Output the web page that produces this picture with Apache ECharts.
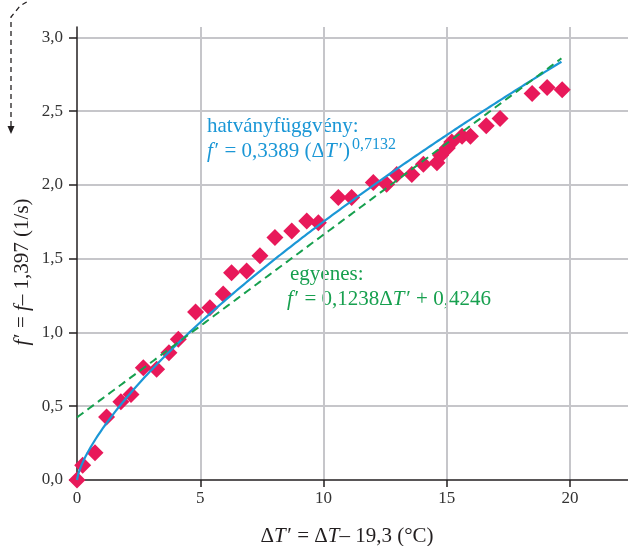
<!DOCTYPE html>
<html><head><meta charset="utf-8">
<script src="https://cdn.jsdelivr.net/npm/echarts@6/dist/echarts.min.js"></script>
<style>html,body{margin:0;padding:0;background:#fff}#c{width:628px;height:546px}</style>
</head><body><div id="c"></div>
<script>
// measured points
const deltaT = [0, 0.23, 0.73, 1.2, 1.78, 2.19, 2.69, 3.23, 3.73, 4.11, 4.81, 5.39, 5.93, 6.27, 6.88, 7.42, 8.03, 8.71, 9.32, 9.79, 10.6, 11.14, 12.02, 12.56, 12.97, 13.58, 14.05, 14.6, 14.75, 15.02, 15.2, 15.62, 15.96, 16.6, 17.16, 18.46, 19.07, 19.68];
const fPrime = [0, 0.10, 0.185, 0.427, 0.53, 0.58, 0.76, 0.75, 0.863, 0.954, 1.139, 1.168, 1.26, 1.405, 1.417, 1.52, 1.643, 1.688, 1.756, 1.744, 1.914, 1.914, 2.016, 2.005, 2.07, 2.07, 2.14, 2.15, 2.2, 2.25, 2.29, 2.33, 2.33, 2.40, 2.45, 2.62, 2.66, 2.645];
const xTicks = [0, 5, 10, 15, 20];
const yTicks = [0, 0.5, 1, 1.5, 2, 2.5, 3];
// fit coefficients printed on the chart
const powerCoef = [0.3389, 0.7132];
const lineCoef = [0.1238, 0.4246];
const fitRange = [0, 19.65];

const FONT = '"Liberation Serif", "DejaVu Serif", serif';
const BLUE = '#1b97d6', GREEN = '#17a04f', PINK = '#e8195a', AXIS = '#231f20';

const scatterData = deltaT.map((x, i) => [x, fPrime[i]]);
const powerData = [], lineData = [];
for (let k = 0; ; k++) {
  let x = fitRange[0] + k * 0.05;
  if (x > fitRange[1]) x = fitRange[1];
  powerData.push([x, powerCoef[0] * Math.pow(x, powerCoef[1])]);
  lineData.push([x, lineCoef[0] * x + lineCoef[1]]);
  if (x >= fitRange[1]) break;
}

const chart = echarts.init(document.getElementById('c'));
const ital = { fontStyle: 'italic', fontFamily: FONT };
const P = '\u200A\u2032';
chart.setOption({
  animation: false,
  backgroundColor: '#fff',
  grid: { left: 77, right: 0, top: 27, bottom: 66, containLabel: false },
  xAxis: {
    type: 'value', min: 0, max: 22.35, interval: 5,
    axisLine: { show: true, lineStyle: { color: AXIS, width: 1.5 } },
    axisTick: { show: true, length: 7, customValues: xTicks, lineStyle: { color: AXIS, width: 1.5 } },
    axisLabel: { customValues: xTicks, margin: 10, fontFamily: FONT, fontSize: 17, color: '#333',
      formatter: v => String(v) },
    splitLine: { show: true, showMinLine: false, lineStyle: { color: '#c6c6ca', width: 2 } }
  },
  yAxis: {
    type: 'value', min: 0, max: 3.07, interval: 0.5,
    axisLine: { show: true, lineStyle: { color: AXIS, width: 1.5 } },
    axisTick: { show: true, length: 8, customValues: yTicks, lineStyle: { color: AXIS, width: 1.5 } },
    axisLabel: { customValues: yTicks, margin: 14, fontFamily: FONT, fontSize: 17, color: '#333',
      formatter: v => v.toFixed(1).replace('.', ',') },
    splitLine: { show: true, showMinLine: false, lineStyle: { color: '#c6c6ca', width: 2 } }
  },
  series: [
    { type: 'scatter', data: scatterData, symbol: 'diamond', symbolSize: 17, itemStyle: { color: PINK, opacity: 1 }, z: 2 },
    { type: 'line', data: powerData, showSymbol: false, symbol: 'none', smooth: false,
      lineStyle: { color: BLUE, width: 2.2 }, z: 3 },
    { type: 'line', data: lineData, showSymbol: false, symbol: 'none',
      lineStyle: { color: GREEN, width: 2, type: [8, 5] }, z: 4 }
  ],
  graphic: [
    { type: 'text', left: 207, top: 116, style: { text: 'hatványfüggvény:', font: '21px ' + FONT, fill: BLUE } },
    { type: 'text', left: 207, top: 141, style: {
      text: '{i|f}' + P + ' = 0,3389 (Δ{i|T}' + P + ')', fill: BLUE, font: '21px ' + FONT,
      rich: { i: Object.assign({ fontSize: 21, fill: BLUE }, ital) } } },
    { type: 'text', left: 352, top: 137, style: { text: '0,7132', font: '16px ' + FONT, fill: BLUE } },
    { type: 'text', left: 290, top: 264, style: { text: 'egyenes:', font: '21px ' + FONT, fill: GREEN } },
    { type: 'text', left: 287, top: 289, style: {
      text: '{i|f}' + P + ' = 0,1238Δ{i|T}' + P + ' + 0,4246', fill: GREEN, font: '21px ' + FONT,
      rich: { i: Object.assign({ fontSize: 21, fill: GREEN }, ital) } } },
    { type: 'text', x: 347, y: 536, style: {
      text: 'Δ{i|T}' + P + ' = Δ{i|T}– 19,3 (°C)', align: 'center', verticalAlign: 'middle', fill: '#231f20', font: '21px ' + FONT,
      rich: { i: Object.assign({ fontSize: 21, fill: '#231f20' }, ital) } } },
    { type: 'text', x: 22, y: 272, rotation: Math.PI / 2, style: {
      text: '{i|f}' + P + ' = {i|f}– 1,397 (1/s)', align: 'center', verticalAlign: 'middle', fill: '#231f20', font: '21px ' + FONT,
      rich: { i: Object.assign({ fontSize: 21, fill: '#231f20' }, ital) } } },
    { type: 'polyline', shape: { points: [[11, 126], [11, 17], [20, 6], [30, 0]] },
      style: { stroke: '#231f20', lineWidth: 1.3, lineDash: [5, 4], fill: null } },
    { type: 'polygon', shape: { points: [[7.5, 126], [14.5, 126], [11, 134]] }, style: { fill: '#231f20' } }
  ]
});
</script>
</body></html>
